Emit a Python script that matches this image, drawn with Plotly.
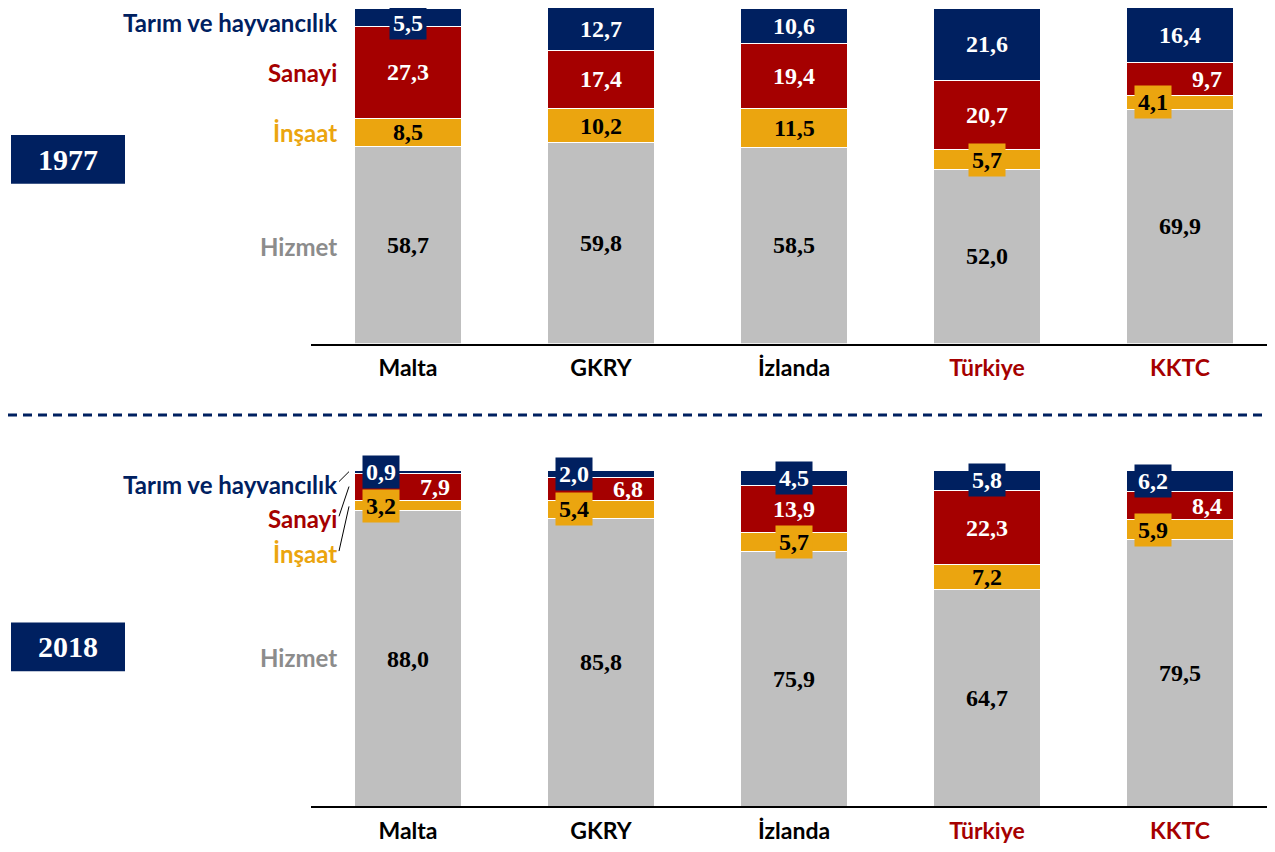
import plotly.graph_objects as go

countries = ["Malta", "GKRY", "İzlanda", "Türkiye", "KKTC"]
country_colors = ["#000000", "#000000", "#000000", "#A50000", "#A50000"]
sectors = ["Hizmet", "İnşaat", "Sanayi", "Tarım ve hayvancılık"]

# 1977 (%)
hizmet_1977 = [58.7, 59.8, 58.5, 52.0, 69.9]
insaat_1977 = [8.5, 10.2, 11.5, 5.7, 4.1]
sanayi_1977 = [27.3, 17.4, 19.4, 20.7, 9.7]
tarim_1977 = [5.5, 12.7, 10.6, 21.6, 16.4]

# 2018 (%)
hizmet_2018 = [88.0, 85.8, 75.9, 64.7, 79.5]
insaat_2018 = [3.2, 5.4, 5.7, 7.2, 5.9]
sanayi_2018 = [7.9, 6.8, 13.9, 22.3, 8.4]
tarim_2018 = [0.9, 2.0, 4.5, 5.8, 6.2]

NAVY = "#002060"
RED = "#A50000"
GOLD = "#EBA50F"
GRAY = "#BFBFBF"
sector_colors = [GRAY, GOLD, RED, NAVY]
label_colors = ["#8C8C8C", GOLD, RED, NAVY]
value_colors = ["black", "black", "white", "white"]

NUM_FONT = "Liberation Serif"
TXT_FONT = "Lato"

# sayfa gövdesinin 8px kenar boşluğu hesaba katılıyor
OFF = 8
FW, FH = 1267, 836


def px(x):
    return (x - OFF) / FW


def py(y):
    return 1 - (y - OFF) / FH


panels = [
    ("1977", [hizmet_1977, insaat_1977, sanayi_1977, tarim_1977], "x", "y"),
    ("2018", [hizmet_2018, insaat_2018, sanayi_2018, tarim_2018], "x2", "y2"),
]

# yatay kaydırma (küçük dilimlerin etiketleri)
shifts = {
    ("1977", 1, 4): -27, ("1977", 2, 4): 27,
    ("2018", 3, 0): -27, ("2018", 2, 0): 27, ("2018", 1, 0): -27,
    ("2018", 3, 1): -27, ("2018", 2, 1): 27, ("2018", 1, 1): -27,
    ("2018", 3, 4): -27, ("2018", 2, 4): 27, ("2018", 1, 4): -27,
}
# üst kenarda kesilmesin diye
yshifts = {("1977", 3, 0): -6}

fig = go.Figure()
annotations = []

for year, series, xa, ya in panels:
    base = [0] * len(countries)
    for si, vals in enumerate(series):
        fig.add_trace(go.Bar(
            x=countries, y=vals, name=sectors[si],
            marker=dict(color=sector_colors[si], line=dict(color="white", width=1)),
            width=0.55, xaxis=xa, yaxis=ya, showlegend=False, hoverinfo="skip",
        ))
        for ci, v in enumerate(vals):
            small = v < 6.5 and si > 0
            annotations.append(dict(
                x=countries[ci], y=base[ci] + v / 2, xref=xa, yref=ya,
                text="<b>" + f"{v:.1f}".replace(".", ",") + "</b>",
                showarrow=False, xanchor="center", yanchor="middle",
                font=dict(family=NUM_FONT, size=24, color=value_colors[si]),
                bgcolor=sector_colors[si] if small else None,
                borderpad=3,
                xshift=shifts.get((year, si, ci), 0),
                yshift=yshifts.get((year, si, ci), 0),
            ))
            base[ci] += v

# sol taraftaki sektör etiketleri
left_top = [(248, 0), (133, 1), (73, 2), (23, 3)]
left_bot = [(662, 0), (557, 1), (522, 2), (488, 3)]
for ypix, si in left_top + left_bot:
    annotations.append(dict(
        x=px(339), y=py(ypix), xref="paper", yref="paper",
        xanchor="right", yanchor="middle", showarrow=False,
        text="<b>" + sectors[si] + "</b>",
        font=dict(family=TXT_FONT, size=24, color=label_colors[si]),
    ))

# yıl kutuları
shapes = []
for year, (y0, y1) in zip(["1977", "2018"], [(136, 185), (627, 676)]):
    shapes.append(dict(type="rect", xref="paper", yref="paper",
                       x0=px(11), x1=px(125), y0=py(y1), y1=py(y0),
                       fillcolor=NAVY, line=dict(width=0)))
    annotations.append(dict(
        x=px(68), y=py((y0 + y1) / 2), xref="paper", yref="paper",
        xanchor="center", yanchor="middle",
        text="<b>" + year + "</b>", showarrow=False,
        font=dict(family=NUM_FONT, size=30, color="white"),
    ))

# ayırıcı kesikli çizgi
shapes.append(dict(type="line", xref="paper", yref="paper",
                   x0=0, x1=1, y0=py(418), y1=py(418),
                   line=dict(color=NAVY, width=3, dash="9px,6px")))

# 2018 için kılavuz çizgiler
for (x0, y0, x1, y1) in [(339, 485, 349, 475), (339, 520, 349, 490), (339, 555, 349, 510)]:
    shapes.append(dict(type="line", xref="paper", yref="paper",
                       x0=px(x0), y0=py(y0), x1=px(x1), y1=py(y1),
                       line=dict(color="black", width=1)))

# kategori merkezleri 408 + 193*i piksele gelecek şekilde eksen aralığı
x_lo = (311 - 408) / 193
x_hi = (OFF + FW - 408) / 193

ticktext = [f"<span style='color:{c}'><b>{n}</b></span>" for n, c in zip(countries, country_colors)]
xaxis_common = dict(
    domain=[px(311), 1], type="category", showline=True, linecolor="black",
    linewidth=1.5, showgrid=False, ticks="", tickvals=countries, ticktext=ticktext,
    tickfont=dict(family=TXT_FONT, size=23, color="black"), zeroline=False,
    range=[x_lo, x_hi], fixedrange=True, ticklabelstandoff=3,
)

fig.update_layout(
    width=FW, height=FH,
    margin=dict(l=0, r=0, t=0, b=0),
    barmode="stack",
    plot_bgcolor="white", paper_bgcolor="white",
    xaxis=dict(anchor="y", **xaxis_common),
    xaxis2=dict(anchor="y2", **xaxis_common),
    yaxis=dict(domain=[py(346), py(8)], range=[0, 100], visible=False),
    yaxis2=dict(domain=[py(812), py(474)], range=[0, 100], visible=False),
    annotations=annotations,
    shapes=shapes,
)

fig.write_html("out.html")
